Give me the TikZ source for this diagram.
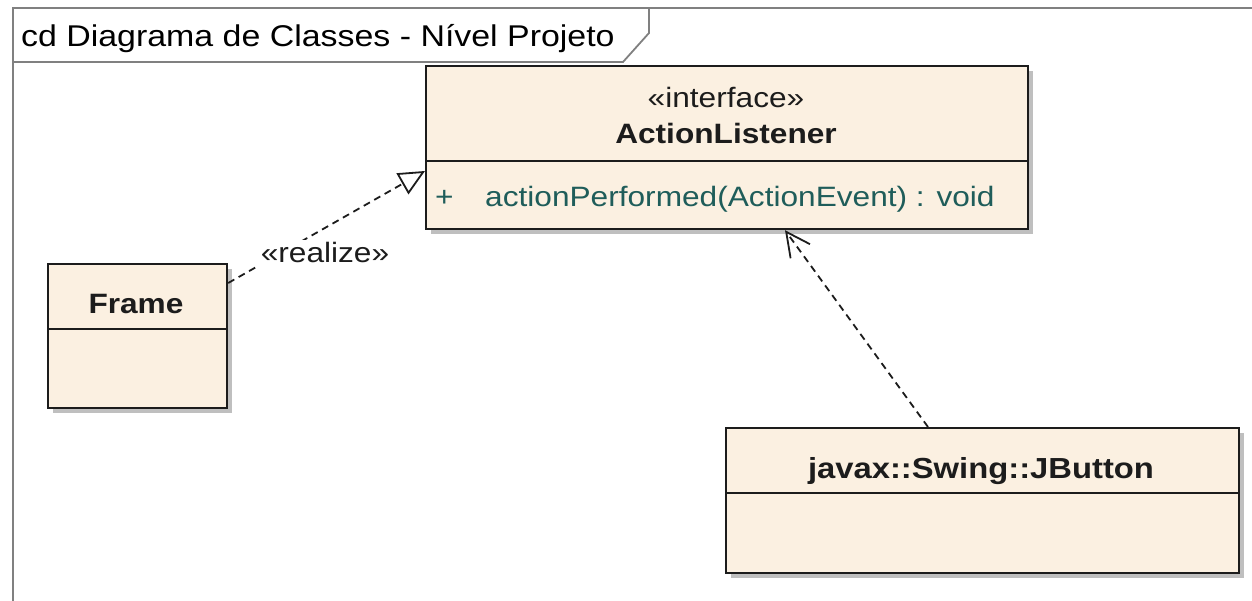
\documentclass[tikz,border=0pt]{standalone}
\usepackage{fontspec}
\setmainfont{Liberation Sans}[FakeStretch=1.13]
\usepackage{tikz}
\usetikzlibrary{positioning,shapes,arrows.meta,shadows}

\definecolor{umlfill}{HTML}{FBF0E1}
\definecolor{umlline}{HTML}{1C1C1C}
\definecolor{umlop}{HTML}{1F5D5A}
\definecolor{umlframe}{HTML}{808080}

\tikzset{
	classbox/.style={draw=umlline, line width=2.2pt, fill=umlfill, anchor=north west, inner sep=0pt,
		drop shadow={shadow xshift=5pt, shadow yshift=-5pt, fill=black!25, opacity=1}},
	classtitle/.style={anchor=base, inner sep=0pt, text=umlline, font=\bfseries\fontsize{28}{34}\selectfont},
	stereotype/.style={anchor=base, inner sep=0pt, text=umlline, font=\fontsize{28}{34}\selectfont},
	operation/.style={anchor=base west, inner sep=0pt, text=umlop, font=\fontsize{28}{34}\selectfont},
	realization/.style={draw=umlline, line width=1.8pt, dash pattern=on 7pt off 5pt,
		-{Triangle[open, length=26pt, width=24pt, line width=1.8pt]}},
	dependency/.style={draw=umlline, line width=1.8pt, dash pattern=on 7pt off 5pt,
		-{Straight Barb[length=24pt, width=24pt, line width=1.8pt]}}
}

\begin{document}
\begin{tikzpicture}[x=1pt, y=-1pt]
	\useasboundingbox (0,0) rectangle (1252,601);
	
	% Diagram frame with name tab
	\draw[umlframe, line width=1.8pt] (1252,8) -- (13,8) -- (13,601);
	\draw[umlframe, line width=1.8pt] (13,62) -- (623,62) -- (649,33) -- (649,8);
	\node[anchor=base west, inner sep=0pt, font=\fontsize{30}{36}\selectfont] (diagname) at (21,47) {cd Diagrama de Classes - Nível Projeto};
	
	% Interface ActionListener
	\node[classbox, minimum width=602pt, minimum height=163pt] (listener) at (425,65) {};
	\draw[umlline, line width=2.2pt] (listener.west |- 0,161) -- (listener.east |- 0,161);
	\node[stereotype] (listenerstereo) at (726,108) {«interface»};
	\node[classtitle] (listenername) at (726,144) {ActionListener};
	\node[operation] (listenervis) at (435,207) {+};
	\node[operation] (listenerop) at (485,207) {actionPerformed(ActionEvent) : void};
	
	% Class Frame
	\node[classbox, minimum width=179pt, minimum height=144pt] (frame) at (47,263) {};
	\draw[umlline, line width=2.2pt] (frame.west |- 0,329) -- (frame.east |- 0,329);
	\node[classtitle] (framename) at (136,313) {Frame};
	
	% Class JButton
	\node[classbox, minimum width=513pt, minimum height=145pt] (button) at (725,427) {};
	\draw[umlline, line width=2.2pt] (button.west |- 0,493) -- (button.east |- 0,493);
	\node[classtitle, font=\bfseries\fontsize{29}{35}\selectfont] (buttonname) at (981,478) {javax::Swing::JButton};
	
	% Realization Frame -> ActionListener
	\draw[realization] ([yshift=-20pt]frame.north east) -- ([yshift=-106pt]listener.north west);
	\node[stereotype, fill=white, inner sep=3pt] (realizelabel) at (325,263) {«realize»};
	
	% Dependency JButton -> ActionListener
	\draw[dependency] ([xshift=203pt]button.north west) -- ([xshift=360pt]listener.south west);
\end{tikzpicture}
\end{document}
